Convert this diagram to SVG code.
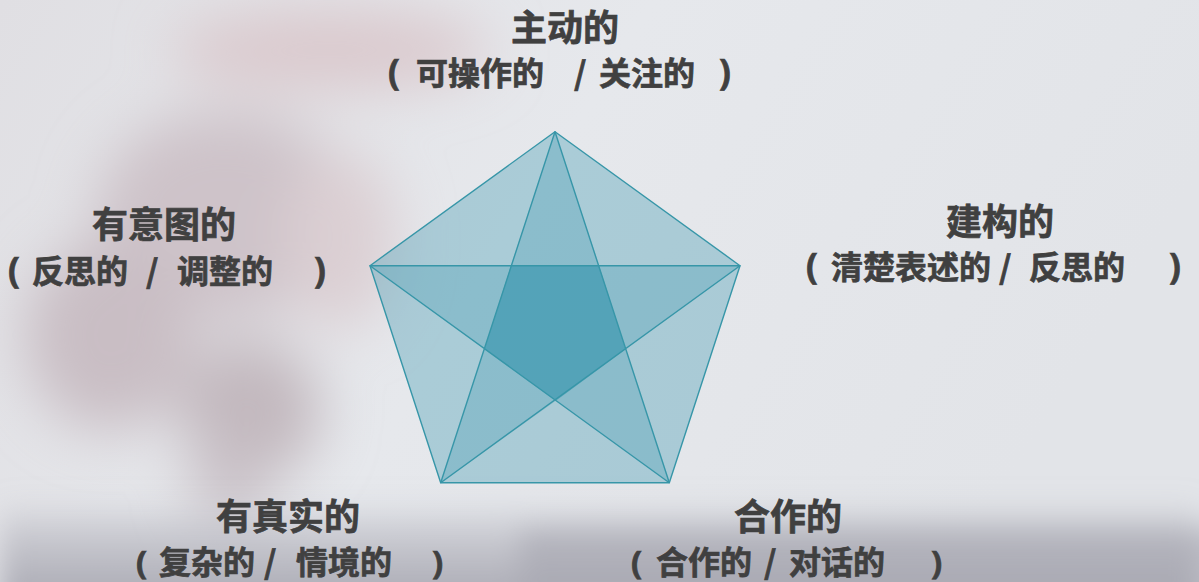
<svg xmlns="http://www.w3.org/2000/svg" width="1199" height="582" viewBox="0 0 1199 582">
<defs>
<style>
.t1{font-family:"Noto Sans CJK SC","Noto Sans",sans-serif;font-weight:bold;font-size:36px;fill:#404040;stroke:#404040;stroke-width:0.7}
.t2{font-family:"Noto Sans CJK SC","Noto Sans",sans-serif;font-weight:bold;font-size:32px;fill:#404040;stroke:#404040;stroke-width:0.7}
.p{font-family:"Noto Sans","Noto Sans CJK SC",sans-serif;font-weight:bold;font-size:35px}
.pb{font-family:"Noto Sans","Noto Sans CJK SC",sans-serif;font-weight:bold;font-size:33px}
.edge{fill:none;stroke:#3796a8;stroke-width:1.4;stroke-linejoin:round}
</style>
<filter id="blur" x="-50%" y="-50%" width="200%" height="200%"><feGaussianBlur stdDeviation="28"/></filter>
<filter id="blur2" x="-50%" y="-50%" width="200%" height="200%"><feGaussianBlur stdDeviation="14"/></filter>
<linearGradient id="bg" x1="0" y1="0" x2="1" y2="0.3">
<stop offset="0" stop-color="#e0dfe3"/>
<stop offset="0.5" stop-color="#e6e8ec"/>
<stop offset="1" stop-color="#e2e4e8"/>
</linearGradient>
<linearGradient id="bot" x1="0" y1="0" x2="0" y2="1">
<stop offset="0" stop-color="#a8a8b2" stop-opacity="0"/>
<stop offset="0.45" stop-color="#b2b2bb" stop-opacity="0.7"/>
<stop offset="1" stop-color="#a3a3ad" stop-opacity="1"/>
</linearGradient>
</defs>
<g id="background">
<rect x="0" y="0" width="1199" height="582" fill="url(#bg)"/>
<g filter="url(#blur)">
<ellipse cx="330" cy="50" rx="160" ry="40" fill="#dac9cd"/>
<ellipse cx="225" cy="215" rx="130" ry="105" fill="#cec3c9"/>
<ellipse cx="110" cy="335" rx="85" ry="95" fill="#c9bec4"/>
<ellipse cx="250" cy="410" rx="70" ry="70" fill="#c2b8be"/>
<ellipse cx="230" cy="480" rx="40" ry="45" fill="#c9c1c7"/>
<ellipse cx="340" cy="240" rx="55" ry="90" fill="#dbcfd3"/>
</g>
<g filter="url(#blur2)">
<rect x="0" y="500" width="1199" height="110" fill="url(#bot)"/>
<rect x="520" y="528" width="720" height="80" fill="#a7a7b1" opacity="0.6"/>
</g>
</g>
<g id="pentagon">
<polygon points="555,131.7 740,265.7 669.3,482.7 440.7,482.7 370,265.7" fill="#4a9fb5" fill-opacity="0.38"/>
<polygon points="555,131.7 599,265.7 740,265.7 625.7,349.3 669.3,482.7 555.5,401 440.7,482.7 484.3,349.3 370,265.7 511,265.7" fill="#4a9fb5" fill-opacity="0.32"/>
<polygon points="511,265.7 599,265.7 625.7,349.3 555.5,401 484.3,349.3" fill="#4a9fb5" fill-opacity="0.85"/>
</g>
<g id="connectors">
<polygon class="edge" points="555,131.7 740,265.7 669.3,482.7 440.7,482.7 370,265.7"/>
<polygon class="edge" points="555,131.7 669.3,482.7 370,265.7 740,265.7 440.7,482.7"/>
</g>
<g id="node-top">
<text class="t1" x="511" y="41">主动的</text>
<text class="t2" y="85"><tspan class="p" x="388">(</tspan><tspan x="416">可操作的</tspan><tspan x="574">/</tspan><tspan x="599">关注的</tspan><tspan class="p" x="719">)</tspan></text>
</g>
<g id="node-left">
<text class="t1" x="92" y="238">有意图的</text>
<text class="t2" y="283"><tspan class="p" x="8">(</tspan><tspan x="32">反思的</tspan><tspan x="146">/</tspan><tspan x="177">调整的</tspan><tspan class="p" x="314">)</tspan></text>
</g>
<g id="node-right">
<text class="t1" x="946" y="235">建构的</text>
<text class="t2" y="279"><tspan class="p" x="806">(</tspan><tspan x="831">清楚表述的</tspan><tspan x="999">/</tspan><tspan x="1029">反思的</tspan><tspan class="p" x="1169">)</tspan></text>
</g>
<g id="node-bottom-left">
<text class="t1" x="216" y="530">有真实的</text>
<text class="t2" y="574"><tspan class="pb" x="136">(</tspan><tspan x="159">复杂的</tspan><tspan x="264">/</tspan><tspan x="296">情境的</tspan><tspan class="pb" x="432">)</tspan></text>
</g>
<g id="node-bottom-right">
<text class="t1" x="734" y="530">合作的</text>
<text class="t2" y="574"><tspan class="pb" x="631">(</tspan><tspan x="656">合作的</tspan><tspan x="764">/</tspan><tspan x="789">对话的</tspan><tspan class="pb" x="931">)</tspan></text>
</g>
</svg>
